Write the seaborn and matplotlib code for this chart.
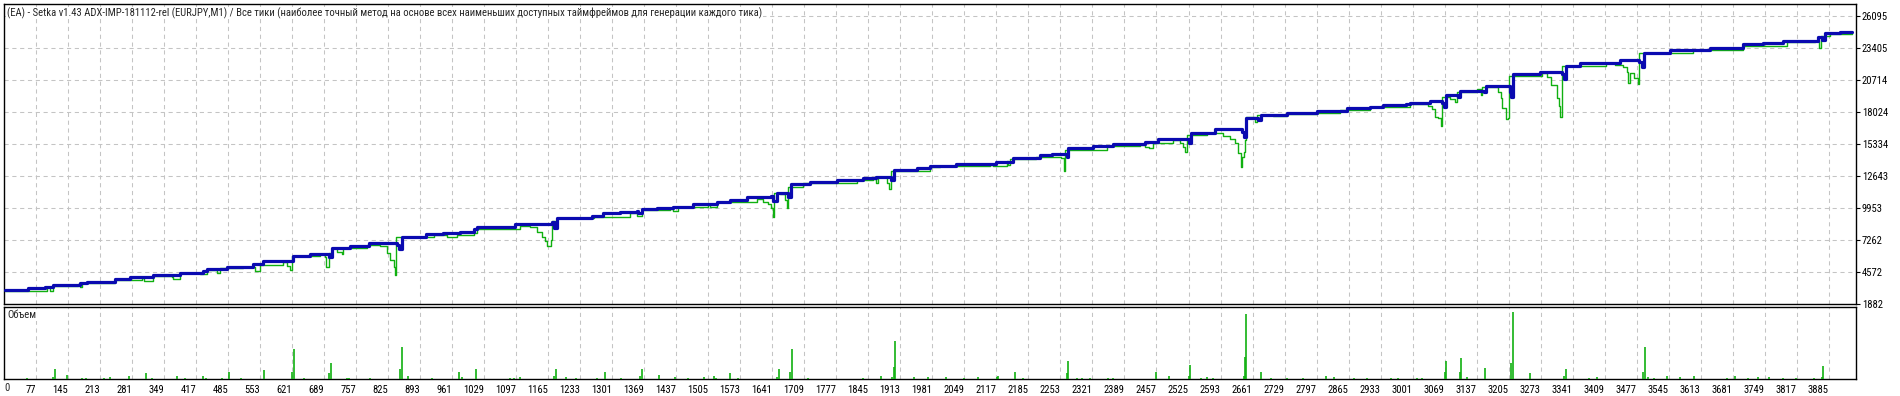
import numpy as np
import pandas as pd
import matplotlib
matplotlib.use("Agg")
import matplotlib.pyplot as plt
import seaborn as sns
from matplotlib import font_manager as fm

# ---------------- data ----------------
title = ("(EA) - Setka v1.43 ADX-IMP-181112-rel (EURJPY,M1) / Все тики (наиболее точный метод "
         "на основе всех наименьших доступных таймфреймов для генерации каждого тика)")
volume_label = "Объем"

balance_x = [11, 60, 96, 113, 170, 184, 212, 244, 276, 326, 382, 432, 439, 482, 538, 559, 623, 659,
             698, 705, 744, 783, 843, 848, 853, 906, 942, 977, 1006, 1013, 1094, 1172, 1176, 1183,
             1257, 1282, 1317, 1353, 1356, 1363, 1395, 1430, 1473, 1523, 1551, 1586, 1639, 1643,
             1650, 1675, 1680, 1721, 1778, 1834, 1862, 1894, 1899, 1948, 1976, 1997, 2032, 2117,
             2153, 2209, 2234, 2266, 2270, 2323, 2365, 2433, 2461, 2525, 2530, 2581, 2638, 2643,
             2647, 2673, 2680, 2734, 2797, 2861, 2911, 2939, 2988, 2996, 3038, 3064, 3068, 3072,
             3098, 3102, 3153, 3157, 3208, 3211, 3215, 3272, 3318, 3323, 3326, 3357, 3442, 3483,
             3489, 3493, 3548, 3633, 3704, 3746, 3789, 3863, 3870, 3877, 3909, 3934]
balance_y = [3059, 3253, 3339, 3479, 3620, 3731, 3760, 3956, 4124, 4320, 4516, 4684, 4853, 5021,
             5217, 5525, 5946, 6058, 5806, 6562, 6758, 6982, 6843, 6478, 7487, 7740, 7880, 7963,
             8159, 8384, 8608, 8804, 8244, 9084, 9280, 9505, 9617, 9701, 9505, 9841, 9953, 10065,
             10289, 10458, 10626, 10850, 10962, 10570, 11242, 10850, 11943, 12139, 12307, 12447,
             12587, 12307, 13148, 13288, 13484, 13512, 13652, 13848, 14129, 14381, 14493, 14269,
             14969, 15194, 15306, 15530, 15754, 15446, 16230, 16567, 16315, 15950, 17492, 17351,
             17772, 17912, 18108, 18332, 18472, 18585, 18697, 18809, 18949, 18753, 18416, 19453,
             19313, 19817, 19733, 20210, 19733, 19313, 21219, 21415, 21219, 20798, 21919, 22116,
             22396, 22256, 21835, 22956, 23237, 23433, 23713, 23853, 24021, 24301, 24077, 24638,
             24750, 24778]

equity_x = [11, 99, 106, 113, 166, 169, 174, 244, 301, 305, 326, 365, 368, 382, 421, 425, 439, 460,
            467, 517, 542, 552, 602, 609, 616, 620, 680, 690, 693, 698, 705, 715, 726, 729, 779,
            807, 822, 829, 836, 839, 841, 921, 949, 970, 1006, 1013, 1083, 1105, 1126, 1140, 1151,
            1158, 1163, 1170, 1172, 1183, 1261, 1338, 1353, 1363, 1423, 1430, 1441, 1505, 1508,
            1523, 1608, 1622, 1632, 1638, 1642, 1644, 1657, 1668, 1671, 1675, 1707, 1820, 1855,
            1861, 1866, 1877, 1884, 1889, 1892, 1933, 1976, 1997, 2103, 2110, 2139, 2142, 2146,
            2202, 2209, 2255, 2260, 2263, 2351, 2422, 2433, 2442, 2450, 2493, 2507, 2514, 2518,
            2521, 2564, 2595, 2599, 2613, 2624, 2631, 2636, 2639, 2643, 2646, 2647, 2666, 2670,
            2705, 2734, 2797, 2847, 2911, 2996, 3024, 3034, 3042, 3049, 3056, 3061, 3063, 3070,
            3080, 3091, 3095, 3137, 3146, 3148, 3173, 3183, 3188, 3192, 3199, 3204, 3206, 3275,
            3286, 3296, 3307, 3312, 3315, 3318, 3413, 3431, 3449, 3456, 3459, 3463, 3471, 3479,
            3483, 3534, 3597, 3704, 3796, 3856, 3865, 3868, 3888, 3934]
equity_y = [3003, 3283, 3003, 3423, 3564, 3339, 3620, 3900, 4040, 3844, 4264, 4180, 3956, 4460,
            4516, 4404, 4741, 4516, 4881, 5021, 4684, 5161, 5441, 5077, 4741, 5946, 6086, 5862,
            5021, 6142, 6562, 6282, 6086, 6562, 6843, 6758, 6142, 5581, 5021, 4320, 7487, 7656,
            7487, 7684, 7880, 8159, 8159, 8440, 8328, 7963, 7487, 7207, 6758, 7263, 8888, 9084,
            9224, 9561, 9280, 9785, 9841, 9729, 10009, 10289, 10009, 10458, 10682, 10486, 10289,
            9925, 9168, 11186, 11130, 10626, 9925, 11747, 12027, 12307, 12363, 12027, 12587, 12531,
            12083, 11522, 13092, 13092, 13428, 13456, 13568, 13512, 13876, 13568, 14045, 14269,
            14213, 14129, 13092, 14829, 15165, 15250, 15109, 14969, 15446, 15670, 15446, 15109,
            14689, 16090, 16230, 16287, 16006, 15726, 15446, 14549, 13428, 14269, 14689, 15670,
            17632, 17211, 17772, 17688, 17856, 17968, 18192, 18416, 18668, 18697, 18528, 18248,
            17632, 17491, 16847, 19313, 19313, 19117, 18893, 19733, 19986, 19425, 20154, 20098,
            19733, 19173, 18332, 17407, 17491, 21051, 21275, 20995, 20294, 19173, 18528, 17632,
            21891, 22116, 22004, 21835, 21415, 20434, 21331, 20854, 20350, 22956, 23013, 23237,
            23573, 23909, 24021, 23376, 24413, 24582, 24778]

volume_x = [57, 112, 116, 142, 175, 183, 221, 233, 273, 310, 323, 377, 394, 432, 438, 472, 487, 513,
            560, 621, 625, 645, 700, 704, 737, 742, 785, 849, 853, 866, 918, 975, 982, 1011, 1084,
            1091, 1105, 1178, 1182, 1203, 1223, 1268, 1286, 1320, 1359, 1363, 1401, 1434, 1461,
            1495, 1516, 1521, 1550, 1568, 1650, 1654, 1678, 1682, 1717, 1833, 1871, 1896, 1899,
            1901, 1942, 1971, 2010, 2048, 2077, 2119, 2121, 2156, 2173, 2266, 2269, 2288, 2298,
            2316, 2353, 2364, 2456, 2483, 2526, 2529, 2552, 2565, 2578, 2643, 2646, 2648, 2678,
            2700, 2735, 2769, 2818, 2834, 2877, 2905, 2955, 2970, 3011, 3021, 3069, 3073, 3101,
            3103, 3116, 3154, 3210, 3214, 3251, 3322, 3326, 3375, 3392, 3490, 3494, 3502, 3515,
            3541, 3569, 3600, 3669, 3687, 3714, 3735, 3759, 3789, 3816, 3853, 3870, 3874]
volume_v = [0.3, 0.5, 3.1, 1.3, 0.3, 0.3, 0.3, 0.7, 1.0, 1.7, 0.3, 1.0, 0.3, 1.0, 0.3, 0.3, 2.0, 0.3,
            2.8, 2.2, 8.8, 0.3, 1.7, 4.7, 0.3, 0.3, 0.3, 3.0, 9.5, 1.0, 0.3, 2.0, 0.7, 3.1, 0.3,
            0.3, 0.7, 1.0, 3.1, 0.7, 0.3, 0.3, 2.0, 0.3, 1.0, 3.1, 1.3, 0.7, 0.3,
            0.7, 1.0, 0.3, 1.7, 0.3, 0.7, 3.1, 2.2, 8.8, 0.3, 0.3, 1.0, 0.7, 3.5,
            11.3, 0.7, 0.7, 0.7, 0.3, 0.7, 0.7, 1.0, 2.2, 0.3, 1.7, 5.5, 0.3, 0.3,
            0.3, 0.3, 0.3, 2.0, 1.0, 1.0, 4.3, 0.3, 0.7, 0.3, 1.0, 6.7, 19.3, 2.2,
            0.3, 0.3, 0.3, 1.0, 0.7, 0.3, 0.3, 0.3, 0.3, 0.3, 0.3, 2.0, 5.5, 2.2,
            6.4, 0.7, 3.3, 4.7, 19.9, 1.7, 1.0, 3.1, 0.3, 0.7, 2.0, 9.5, 0.5, 0.3,
            1.0, 0.7, 1.0, 0.3, 1.0, 0.3, 0.7, 0.7, 0.3, 0.3, 0.3, 0.7, 4.0]

y_ticks = [1882, 4572, 7262, 9953, 12643, 15334, 18024, 20714, 23405, 26095]
x_ticks = [77, 145, 213, 281, 349, 417, 485, 553, 621, 689, 757, 825, 893, 961, 1029, 1097, 1165,
           1233, 1301, 1369, 1437, 1505, 1573, 1641, 1709, 1777, 1845, 1913, 1981, 2049, 2117,
           2185, 2253, 2321, 2389, 2457, 2525, 2593, 2661, 2729, 2797, 2865, 2933, 3001, 3069,
           3137, 3205, 3273, 3341, 3409, 3477, 3545, 3613, 3681, 3749, 3817, 3885]
first_x_label = "0"

# ---------------- font choice ----------------
sns.set_theme(style="white")


def pick_font():
    entries = fm.fontManager.ttflist
    prefer = ["Liberation Sans Narrow", "Roboto Condensed", "Open Sans Condensed",
              "Noto Sans", "DejaVu Sans", "Open Sans", "Roboto"]
    narrow = []
    for f in entries:
        st = str(f.stretch).lower()
        nm = f.name.lower()
        w = f.weight
        regular = (w in (400, "normal", "regular", "book")) and f.style == "normal"
        if regular and ("condensed" in st or "narrow" in nm or "condensed" in nm):
            narrow.append(f)
    for p in prefer:
        for f in narrow:
            if f.name == p and str(f.stretch).lower() == "condensed":
                return f.name, "condensed"
        for f in narrow:
            if f.name == p:
                return f.name, str(f.stretch)
    if narrow:
        return narrow[0].name, str(narrow[0].stretch)
    return "DejaVu Sans", "normal"


FONT, STRETCH = pick_font()
plt.rcParams["font.family"] = [FONT, "DejaVu Sans"]
plt.rcParams["font.stretch"] = STRETCH if STRETCH in (
    "ultra-condensed", "extra-condensed", "condensed", "semi-condensed", "normal") else "normal"

BLUE = "#0A0AB0"
GREEN = "#10B010"
GRID = "#C4C4C4"
W, H = 1900, 396

fig = plt.figure(figsize=(W / 100, H / 100), dpi=100)
fig.patch.set_facecolor("white")

# title, sized so that it spans the same width as in the reference (~750 px)
ttl = fig.text(7 / W, 1 - 13 / H, title, ha="left", va="center", fontsize=8,
               bbox=dict(fc="white", ec="none", pad=0.6), zorder=10)
fig.canvas.draw()
tw = ttl.get_window_extent(renderer=fig.canvas.get_renderer()).width
FS = min(9.0, 8 * 750.0 / tw)
ttl.set_fontsize(FS)


def fr(x0, y0, x1, y1):
    return [x0 / W, 1 - y1 / H, (x1 - x0) / W, (y1 - y0) / H]


ax = fig.add_axes(fr(4.3, 4.3, 1855.7, 304))
axv = fig.add_axes(fr(4.3, 306.8, 1855.7, 379))

XLIM = (9.1, 3942.5)
grid_kw = dict(color=GRID, lw=0.75, linestyle=(0, (4, 3.5)), zorder=0)

eq = pd.DataFrame({"trade": equity_x, "value": equity_y})
bal = pd.DataFrame({"trade": balance_x, "value": balance_y})
sns.lineplot(data=eq, x="trade", y="value", ax=ax, color=GREEN, lw=1.0,
             drawstyle="steps-post", estimator=None, zorder=3)
sns.lineplot(data=bal, x="trade", y="value", ax=ax, color=BLUE, lw=2.3,
             drawstyle="steps-post", estimator=None, zorder=4)

ax.set_xlim(*XLIM)
ax.set_ylim(1882, 27079)
ax.set_xticks(x_ticks)
ax.set_yticks(y_ticks)
ax.set_xticklabels([])
ax.yaxis.tick_right()
ax.set_yticklabels([str(v) for v in y_ticks], fontsize=FS)
ax.tick_params(axis="y", direction="out", length=3, width=0.8, pad=1.5, colors="black")
ax.tick_params(axis="x", length=0)
ax.grid(True, axis="both", **grid_kw)
ax.set_xlabel("")
ax.set_ylabel("")
for s in ax.spines.values():
    s.set_color("black")
    s.set_linewidth(1.0)

axv.vlines(volume_x, 0, volume_v, color=GREEN, lw=1.2, zorder=3)
axv.set_xlim(*XLIM)
axv.set_ylim(0, 21.5)
axv.set_yticks([])
axv.set_xticks(x_ticks)
axv.set_xticklabels([str(v) for v in x_ticks], fontsize=FS)
plt.setp(axv.get_xticklabels(), ha="right")
axv.tick_params(axis="x", direction="out", length=3, width=0.8, pad=1.5, colors="black")
axv.grid(True, axis="x", **grid_kw)
for s in axv.spines.values():
    s.set_color("black")
    s.set_linewidth(1.0)
axv.text(0.0, -0.041 - 0.02, first_x_label, transform=axv.transAxes, ha="left", va="top",
         fontsize=FS)
axv.text(0.0015, 0.88, volume_label, transform=axv.transAxes, ha="left", va="center",
         fontsize=FS, bbox=dict(fc="white", ec="none", pad=0.5))

print("font:", FONT, STRETCH, "size:", FS)
fig.savefig("out.png", dpi=100, facecolor="white")
